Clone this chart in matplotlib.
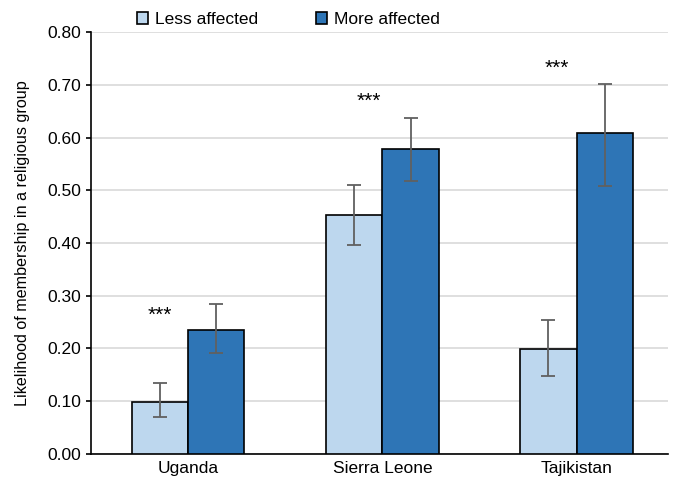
import matplotlib
matplotlib.use('Agg')
import matplotlib.pyplot as plt
import numpy as np

countries = ['Uganda', 'Sierra Leone', 'Tajikistan']
less_vals = [0.099, 0.453, 0.199]
less_lo = [0.070, 0.396, 0.148]
less_hi = [0.135, 0.510, 0.254]
more_vals = [0.235, 0.578, 0.608]
more_lo = [0.191, 0.517, 0.509]
more_hi = [0.284, 0.637, 0.701]
star_x = [-0.145, -0.07, -0.10]
star_y = [0.262, 0.668, 0.732]

plt.rcParams['font.family'] = ['Liberation Sans', 'DejaVu Sans']

fig = plt.figure(figsize=(6.78, 4.8), dpi=100)
ax = fig.add_axes([0.1342, 0.0542, 0.851, 0.8791])

x = np.arange(len(countries))
w = 0.29
less_err = [np.array(less_vals) - np.array(less_lo), np.array(less_hi) - np.array(less_vals)]
more_err = [np.array(more_vals) - np.array(more_lo), np.array(more_hi) - np.array(more_vals)]

ax.bar(x - w / 2, less_vals, w, color='#BDD7EE', edgecolor='black', linewidth=1.2,
       label='Less affected', zorder=3)
ax.bar(x + w / 2, more_vals, w, color='#2E75B6', edgecolor='black', linewidth=1.2,
       label='More affected', zorder=3)
ax.errorbar(x - w / 2, less_vals, yerr=less_err, fmt='none', ecolor='#606060',
            elinewidth=1.3, capsize=5, capthick=1.3, zorder=4)
ax.errorbar(x + w / 2, more_vals, yerr=more_err, fmt='none', ecolor='#606060',
            elinewidth=1.3, capsize=5, capthick=1.3, zorder=4)

for xi, sx, sy in zip(x, star_x, star_y):
    ax.text(xi + sx, sy, '***', ha='center', va='center', fontsize=15)

ax.set_xlim(-0.5, 2.47)
ax.set_ylim(0, 0.8)
ax.set_yticks(np.arange(0, 0.81, 0.1))
ax.set_yticklabels(['%.2f' % v for v in np.arange(0, 0.81, 0.1)])
ax.set_xticks(x)
ax.set_xticklabels(countries)
ax.tick_params(axis='both', labelsize=12.5)
ax.tick_params(axis='y', length=3.6, width=1.2, pad=3.6)
ax.tick_params(axis='x', length=0, pad=5)
ax.yaxis.grid(True, color='#D9D9D9', linewidth=1.2, zorder=0)
ax.set_axisbelow(True)
for s in ['top', 'right']:
    ax.spines[s].set_visible(False)
for s in ['bottom', 'left']:
    ax.spines[s].set_color('black')
    ax.spines[s].set_linewidth(1.2)
ax.set_ylabel('Likelihood of membership in a religious group', fontsize=11.6, labelpad=12)

ax.legend(loc='lower left', bbox_to_anchor=(0.068, 0.995), ncol=2, frameon=False,
          fontsize=12.5, handlelength=0.65, handleheight=0.65, handletextpad=0.4,
          columnspacing=3.3, borderaxespad=0)

fig.savefig('out.png', dpi=100)
